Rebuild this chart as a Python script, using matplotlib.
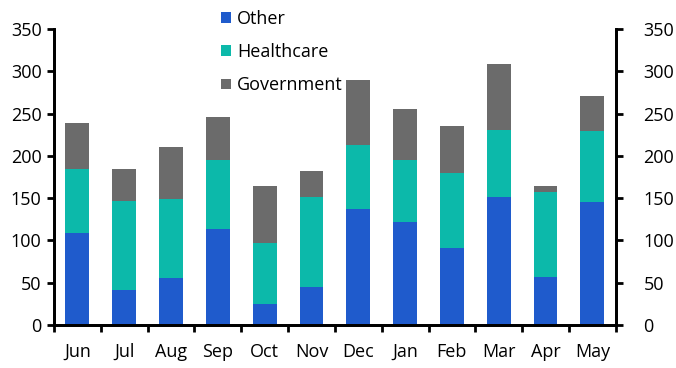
import matplotlib.pyplot as plt
import numpy as np

plt.rcParams['font.family'] = ['Open Sans', 'DejaVu Sans']

months = ["Jun", "Jul", "Aug", "Sep", "Oct", "Nov", "Dec", "Jan", "Feb", "Mar", "Apr", "May"]
other = [109, 41.5, 56, 114, 25, 45, 137.5, 122, 91, 152, 57, 145]
healthcare = [76, 105.5, 93, 81.5, 72, 107, 76, 73.5, 89, 79, 100.5, 84]
government = [54.5, 37, 61, 50, 68, 30, 76, 60.5, 56, 78, 7, 42.5]

c_other = "#1f5bcc"
c_health = "#0cb9aa"
c_gov = "#6b6b6b"

fig = plt.figure(figsize=(6.76, 3.68), dpi=100)
ax = fig.add_axes([0.0799, 0.1168, 0.831, 0.804])

x = np.arange(len(months))
other = np.array(other)
healthcare = np.array(healthcare)
government = np.array(government)

w = 0.51
ax.bar(x, other, w, color=c_other, label="Other")
ax.bar(x, healthcare, w, bottom=other, color=c_health, label="Healthcare")
ax.bar(x, government, w, bottom=other + healthcare, color=c_gov, label="Government")

ax.set_xlim(-0.5, 11.5)
ax.set_ylim(0, 350)
ax.set_yticks(range(0, 351, 50))

ax.set_xticks(x)
ax.set_xticklabels(months)
ax.set_xticks(np.arange(-0.5, 12, 1), minor=True)
ax.tick_params(axis='x', which='major', length=0, labelsize=13, pad=13)
ax.tick_params(axis='x', which='minor', length=5, width=2, direction='out')
ax.tick_params(axis='y', length=5, width=2, labelsize=13, direction='out', pad=4)

# right-hand axis, same scale
ax2 = ax.twinx()
ax2.set_ylim(0, 350)
ax2.set_yticks(range(0, 351, 50))
ax2.tick_params(axis='y', length=5, width=2, labelsize=13, direction='out', pad=15)

for a in (ax, ax2):
    for s in ["left", "right", "bottom"]:
        a.spines[s].set_linewidth(2)
    a.spines["top"].set_visible(False)

leg = ax.legend(loc="upper left", bbox_to_anchor=(0.284, 1.09), frameon=False,
                fontsize=13, handlelength=0.55, handleheight=0.55, handletextpad=0.35,
                labelspacing=0.85, borderaxespad=0)

fig.savefig("out.png", dpi=100)
